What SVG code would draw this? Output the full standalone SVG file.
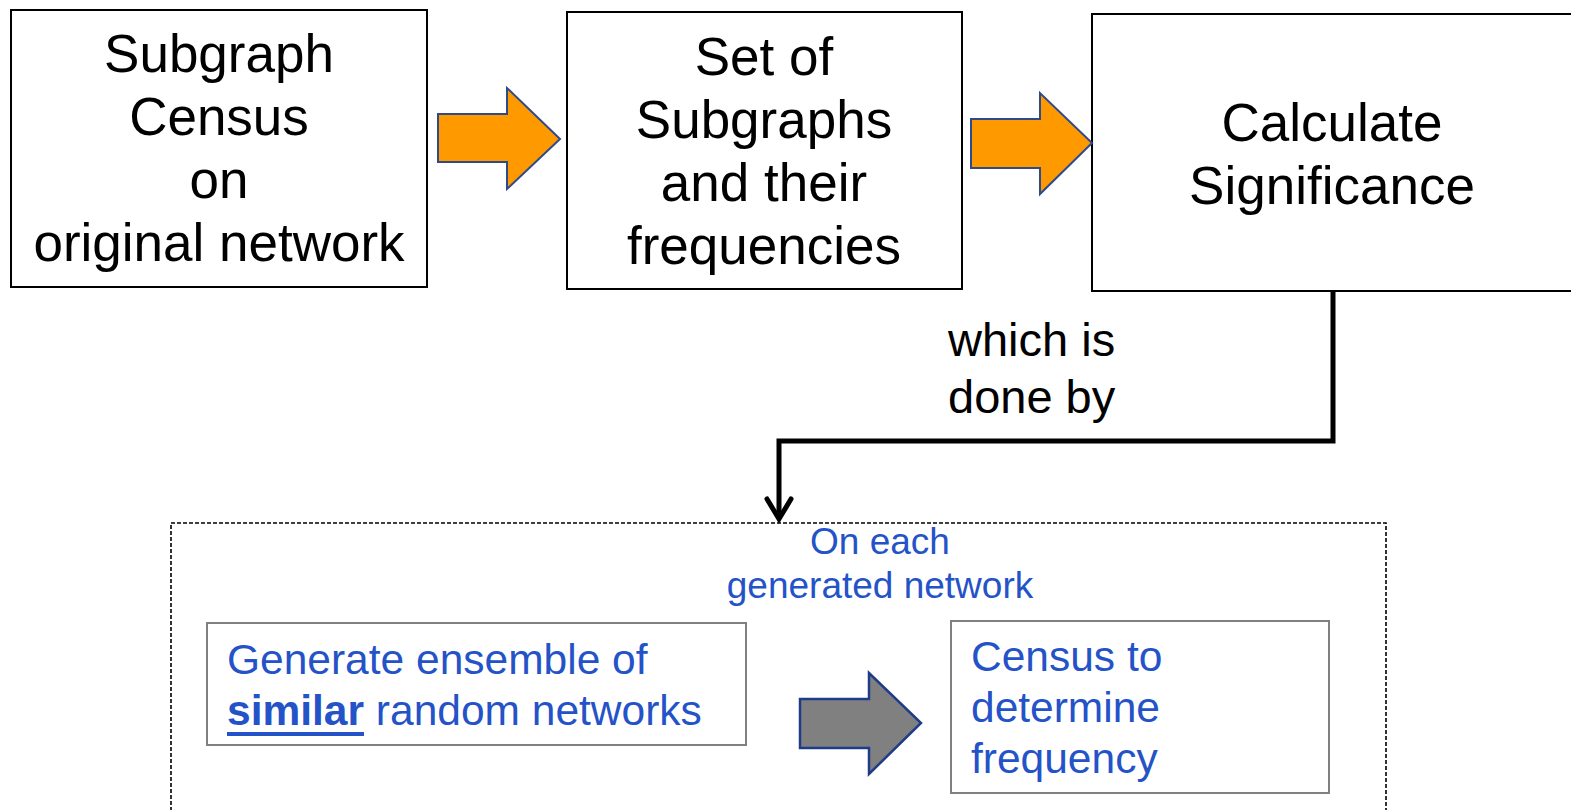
<svg xmlns="http://www.w3.org/2000/svg" width="1571" height="810" viewBox="0 0 1571 810">
<style>
.box{fill:#fff;stroke:#000;stroke-width:2}
.gbox{fill:#fff;stroke:#808080;stroke-width:2}
.big{font-family:"Liberation Sans",Arial,sans-serif;font-size:53px;fill:#000;text-anchor:middle}
.lbl{font-family:"Liberation Sans",Arial,sans-serif;font-size:47px;fill:#000}
.blue{font-family:"Liberation Sans",Arial,sans-serif;font-size:42.5px;fill:#2453C8}
.blues{font-family:"Liberation Sans",Arial,sans-serif;font-size:37px;fill:#2453C8;text-anchor:middle}
.oarrow{fill:#FF9900;stroke:#2F4A8C;stroke-width:2;stroke-linejoin:miter}
.garrow{fill:#808080;stroke:#1F3C88;stroke-width:2.5}
</style>
<rect width="1571" height="810" fill="#fff"/>
<g id="node-census">
<rect class="box" x="11" y="10" width="416" height="277"/>
<text class="big" x="219" y="72">Subgraph</text>
<text class="big" x="219" y="135">Census</text>
<text class="big" x="219" y="198">on</text>
<text class="big" x="219" y="261">original network</text>
</g>
<g id="node-set">
<rect class="box" x="567" y="12" width="395" height="277"/>
<text class="big" x="764" y="75">Set of</text>
<text class="big" x="764" y="138">Subgraphs</text>
<text class="big" x="764" y="201">and their</text>
<text class="big" x="764" y="264">frequencies</text>
</g>
<g id="node-calc">
<rect class="box" x="1092" y="14" width="490" height="277"/>
<text class="big" x="1332" y="141">Calculate</text>
<text class="big" x="1332" y="204">Significance</text>
</g>
<g id="node-ensemble">
<rect x="171" y="523" width="1215" height="300" fill="none" stroke="#000" stroke-width="1.6" stroke-dasharray="4,2"/>
<text class="blues" x="880" y="554">On each</text>
<text class="blues" x="880" y="598">generated network</text>
</g>
<g id="node-generate">
<rect class="gbox" x="207" y="623" width="539" height="122"/>
<text class="blue" x="227" y="674">Generate ensemble of</text>
<text class="blue" x="227" y="725"><tspan font-weight="bold">similar</tspan> random networks</text>
<line x1="227" y1="734" x2="364" y2="734" stroke="#2453C8" stroke-width="4"/>
</g>
<g id="node-census2">
<rect class="gbox" x="951" y="621" width="378" height="172"/>
<text class="blue" x="971" y="671">Census to</text>
<text class="blue" x="971" y="722">determine</text>
<text class="blue" x="971" y="773">frequency</text>
</g>
<g id="connectors">
<polygon class="oarrow" points="438,114 507,114 507,88 560,139 507,189 507,162 438,162"/>
<polygon class="oarrow" points="971,119 1040,119 1040,93 1092,143 1040,194 1040,168 971,168"/>
<polygon class="garrow" points="800,699 869,699 869,673 921,723 869,774 869,748 800,748"/>
<polyline points="1333,291 1333,441 779,441 779,518" fill="none" stroke="#000" stroke-width="5" stroke-linejoin="miter"/>
<polyline points="767,499 779,519 791,499" fill="none" stroke="#000" stroke-width="5" stroke-linecap="round" stroke-linejoin="miter"/>
<text class="lbl" x="948" y="356">which is</text>
<text class="lbl" x="948" y="413">done by</text>
</g>
</svg>
